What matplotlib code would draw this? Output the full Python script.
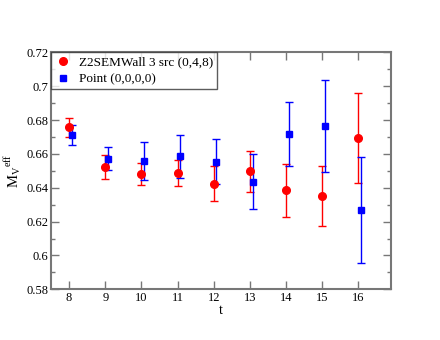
import matplotlib.pyplot as plt
from matplotlib.lines import Line2D
from matplotlib.ticker import MultipleLocator

plt.rcParams['font.family'] = ['Liberation Serif', 'DejaVu Serif']
plt.rcParams['mathtext.fontset'] = 'custom'
plt.rcParams['mathtext.rm'] = 'Liberation Serif'

t = [8, 9, 10, 11, 12, 13, 14, 15, 16]

wall_m = [0.6757, 0.6523, 0.6481, 0.6489, 0.6425, 0.6497, 0.6384, 0.6350, 0.6693]
wall_err = [0.0055, 0.0070, 0.0064, 0.0078, 0.0105, 0.0122, 0.0154, 0.0178, 0.0265]

point_m = [0.6713, 0.6572, 0.6557, 0.6585, 0.6555, 0.6435, 0.6716, 0.6763, 0.6270]
point_err = [0.0060, 0.0069, 0.0113, 0.0125, 0.0135, 0.0163, 0.0190, 0.0271, 0.0313]

yticks = [0.58, 0.6, 0.62, 0.64, 0.66, 0.68, 0.7, 0.72]
ytick_labels = ['0.58', '0.6', '0.62', '0.64', '0.66', '0.68', '0.7', '0.72']

fig = plt.figure(figsize=(4.4, 3.4), dpi=100)
ax = fig.add_axes([0.116, 0.149, 0.7727, 0.697])

ax.errorbar(t, wall_m, yerr=wall_err, fmt='o', color='red', ms=5.5,
            elinewidth=1, capsize=3, capthick=1)
ax.errorbar([x + 0.07 for x in t], point_m, yerr=point_err, fmt='s', color='blue', ms=4.5,
            elinewidth=1, capsize=3, capthick=1)

ax.set_xlim(7.5, 16.9)
ax.set_ylim(0.58, 0.72)
ax.set_xticks(t)
ax.set_yticks(yticks, ytick_labels)
ax.yaxis.set_minor_locator(MultipleLocator(0.01))
ax.tick_params(which='both', direction='in', top=True, right=True, color='#777777',
               labelsize=9, pad=2)
ax.tick_params(which='major', length=6, width=1)
ax.tick_params(which='minor', length=3, width=1)
for s in ax.spines.values():
    s.set_color('#777777')
    s.set_linewidth(1.5)

ax.set_xlabel('t', fontsize=10, labelpad=0)
ax.set_ylabel(r'$\mathrm{M_V}^{\mathrm{eff}}$', fontsize=10.5, labelpad=2)

# legend without error bars, box flush with the top-left corner
handles = [Line2D([], [], ls='none', marker='o', color='red', ms=5.5),
           Line2D([], [], ls='none', marker='s', color='blue', ms=4.5)]
labels = ['Z2SEMWall 3 src (0,4,8)', 'Point (0,0,0,0)']
leg = ax.legend(handles, labels, loc='upper left', fontsize=9.5, frameon=True, fancybox=False,
                borderaxespad=0, handletextpad=0.6, borderpad=0.3, labelspacing=0.35,
                handlelength=1.2, numpoints=1)
leg.get_frame().set_edgecolor('#333333')
leg.get_frame().set_linewidth(1)

fig.savefig('out.png', dpi=100)
